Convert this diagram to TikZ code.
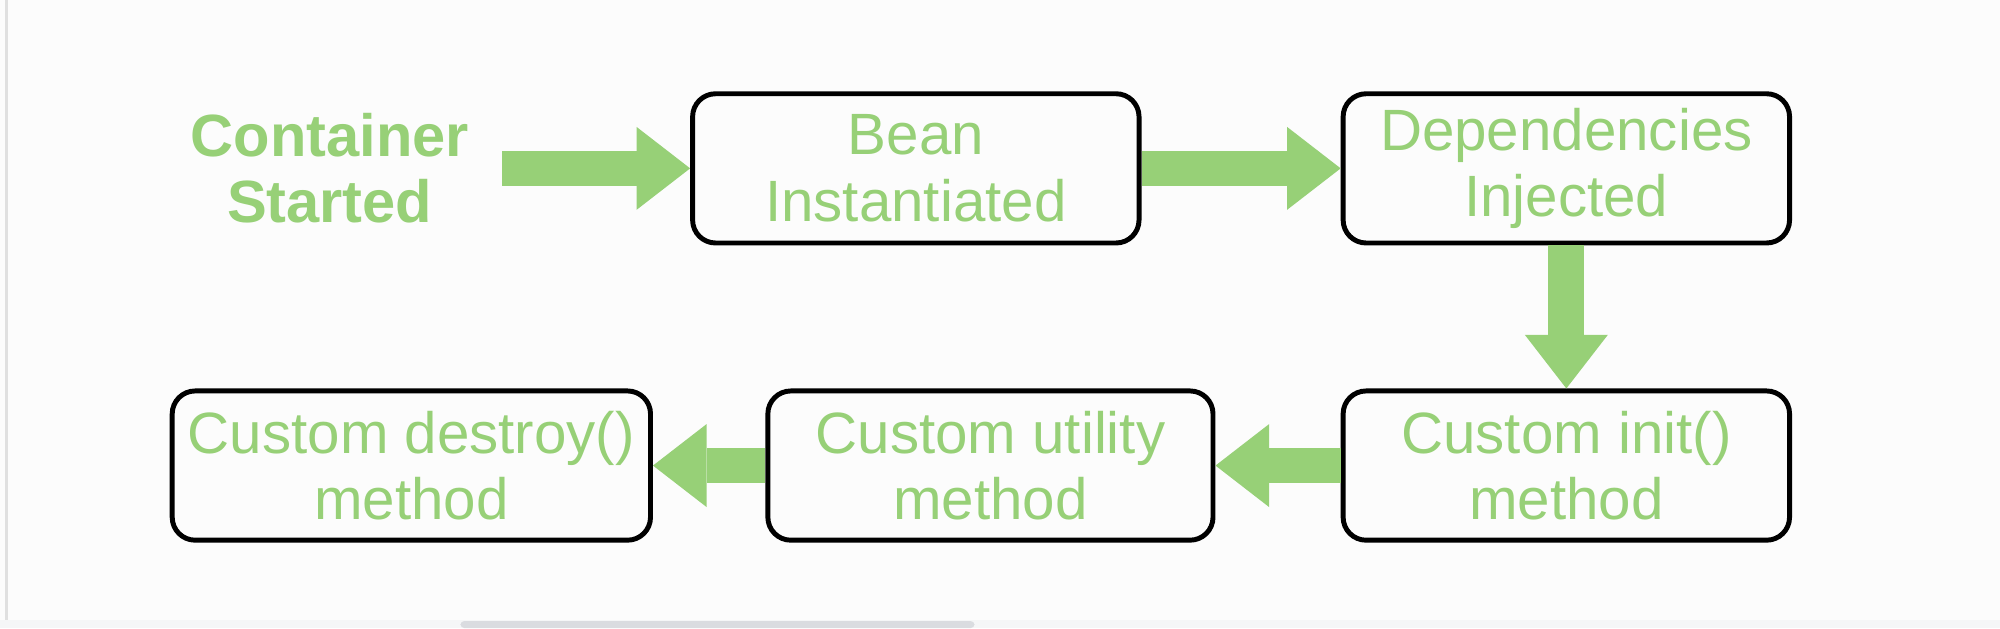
\documentclass[tikz,border=0pt]{standalone}
\usepackage{fontspec}
\setmainfont{Liberation Sans}
\usetikzlibrary{arrows.meta}
\definecolor{beangreen}{HTML}{97D077}
\definecolor{pagegrey}{HTML}{F5F6F7}
\definecolor{bargrey}{HTML}{DADCE0}
\begin{document}
\begin{tikzpicture}[
    stagebox/.style={draw, line width=1.1pt, rounded corners=0.18cm,
        minimum height=1.17cm, inner sep=0pt, align=center, text=beangreen,
        font=\fontsize{13pt}{14.8pt}\selectfont},
    flow/.style={beangreen, line width=0.28cm,
        -{Triangle[length=0.42cm, width=0.65cm, line width=0pt]}}]
    \pgfmathsetmacro\toprow{3.604};
    \pgfmathsetmacro\bottomrow{1.274};

    \useasboundingbox (0, 0) rectangle (15.68, 4.924);
    \fill[white!99!black] (0, 0) rectangle (15.68, 4.924);
    \fill[pagegrey] (0, 0) rectangle (15.68, 0.063);
    \fill[bargrey, rounded corners=0.03cm] (3.61, 0) rectangle (7.64, 0.055);
    \fill[black!12] (0.04, 0.063) rectangle (0.06, 4.924);

    \node[align=center, text=beangreen, inner sep=0pt, minimum width=2.69cm,
        font=\fontsize{13.3pt}{14.8pt}\selectfont\bfseries]
        (start) at (2.585, \toprow) {Container\\Started};
    \node[stagebox, minimum width=3.50cm] (bean) at (7.18, \toprow)
        {Bean\\Instantiated};
    \node[stagebox, minimum width=3.50cm] (deps) at (12.28, \toprow)
        {Dependencies\\Injected};
    \node[stagebox, minimum width=3.50cm] (init) at (12.28, \bottomrow)
        {Custom init()\\method};
    \node[stagebox, minimum width=3.49cm] (util) at (7.765, \bottomrow)
        {Custom utility\\method};
    \node[stagebox, minimum width=3.75cm] (destroy) at (3.225, \bottomrow)
        {Custom destroy()\\method};

    \draw[flow] (start.east) -- (bean.west);
    \draw[flow] (bean.east) -- (deps.west);
    \draw[flow] (deps.south) -- (init.north);
    \draw[flow] (init.west) -- (util.east);
    \draw[flow] (util.west) -- (destroy.east);
\end{tikzpicture}
\end{document}
